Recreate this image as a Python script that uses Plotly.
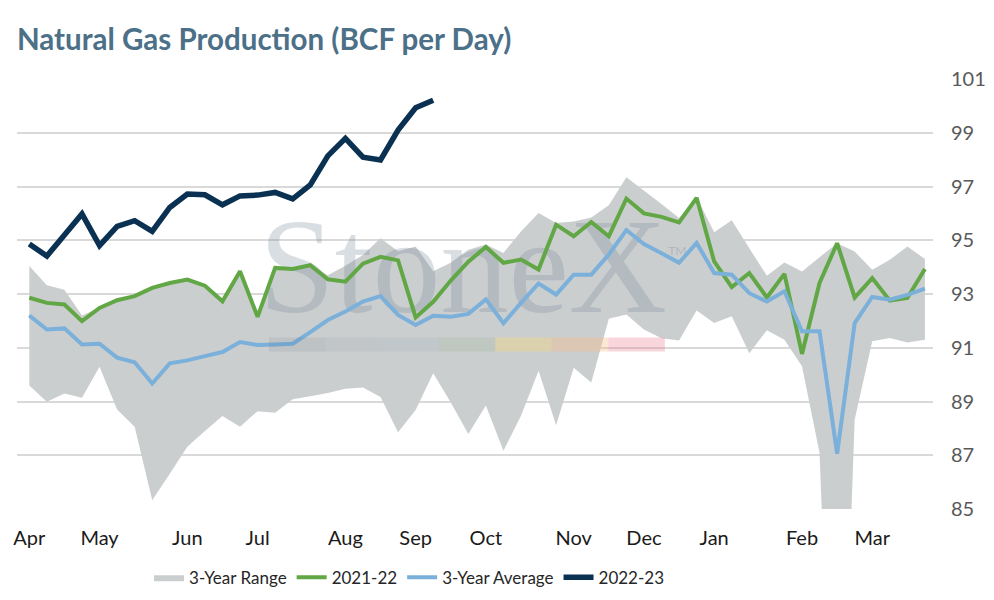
import plotly.graph_objects as go

# ---- data ----
week_index = list(range(52))
month_tick_weeks = [0, 4, 9, 13, 18, 22, 26, 31, 35, 39, 44, 48]
month_labels = ["Apr", "May", "Jun", "Jul", "Aug", "Sep", "Oct", "Nov", "Dec", "Jan", "Feb", "Mar"]
y_ticks = [85, 87, 89, 91, 93, 95, 97, 99, 101]

range_low = [89.6, 88.99, 89.3, 89.14, 90.29, 88.7, 88.06, 85.33, 86.31, 87.32,
             87.9, 88.46, 88.06, 88.64, 88.58, 89.08, 89.2, 89.32, 89.47, 89.52,
             89.17, 87.86, 88.68, 90.05, 88.96, 87.79, 88.85, 87.17, 88.47, 90.14,
             88.12, 90.26, 89.71, 92.08, 92.24, 91.68, 91.35, 91.27, 92.39, 91.92,
             92.17, 90.8, 91.65, 91.3, 90.31, 87.09, 70.0, 88.33, 91.24, 91.36,
             91.2, 91.3]
range_high = [94.04, 93.33, 93.16, 92.2, 92.5, 92.8, 92.95, 93.25, 93.43, 93.56,
              93.33, 92.75, 93.87, 92.17, 93.99, 93.95, 94.09, 93.7, 94.05, 94.45,
              95.07, 94.59, 94.77, 93.85, 94.16, 94.65, 94.84, 94.53, 95.33, 96.01,
              95.64, 95.7, 95.85, 96.3, 97.34, 96.85, 96.35, 95.83, 96.6, 95.3,
              95.74, 94.7, 93.68, 94.17, 93.84, 94.37, 94.89, 94.58, 93.9, 94.27,
              94.77, 94.3]
prod_2021_22 = [92.86, 92.67, 92.61, 91.99, 92.48, 92.77, 92.92, 93.23, 93.41, 93.54,
                93.31, 92.73, 93.85, 92.15, 93.97, 93.93, 94.07, 93.55, 93.46, 94.13,
                94.38, 94.25, 92.13, 92.71, 93.5, 94.2, 94.75, 94.16, 94.28, 93.91,
                95.58, 95.15, 95.68, 95.15, 96.55, 96.0, 95.87, 95.66, 96.58, 94.21,
                93.26, 93.78, 92.87, 93.75, 90.77, 93.41, 94.89, 92.87, 93.59, 92.75,
                92.85, 93.93]
avg_3yr = [92.2, 91.68, 91.72, 91.12, 91.15, 90.63, 90.46, 89.67, 90.42, 90.53,
           90.69, 90.84, 91.21, 91.1, 91.12, 91.15, 91.58, 92.03, 92.35, 92.72,
           92.92, 92.22, 91.85, 92.19, 92.15, 92.26, 92.8, 91.91, 92.67, 93.39,
           92.98, 93.72, 93.72, 94.47, 95.38, 94.86, 94.52, 94.16, 94.9, 93.78,
           93.72, 93.03, 92.72, 93.1, 91.61, 91.61, 87.06, 91.92, 92.89, 92.79,
           92.97, 93.2]
prod_2022_23 = [94.86, 94.41, 95.2, 95.98, 94.8, 95.52, 95.73, 95.33, 96.22, 96.72,
                96.69, 96.32, 96.65, 96.68, 96.78, 96.54, 97.06, 98.14, 98.79, 98.09,
                97.99, 99.1, 99.93, 100.21]

FONT = "Lato"
BAND = "#cbcecf"
GREEN = "#62a745"
BLUE = "#7bb0da"
NAVY = "#0b3152"

fig = go.Figure()

fig.add_trace(go.Scatter(x=week_index, y=range_low, mode="lines", line=dict(width=0),
                         showlegend=False, hoverinfo="skip"))
fig.add_trace(go.Scatter(x=week_index, y=range_high, mode="lines", line=dict(width=0),
                         fill="tonexty", fillcolor=BAND, name="3-Year Range"))

# watermark (drawn above band, below lines)
fig.add_trace(go.Scatter(x=[24.7], y=[93.6], mode="text", text=["StoneX"],
                         textfont=dict(family="Liberation Serif", size=136,
                                       color="rgba(120,135,155,0.28)"),
                         textposition="middle center", showlegend=False, hoverinfo="skip"))
fig.add_trace(go.Scatter(x=[36.9], y=[94.55], mode="text", text=["TM"],
                         textfont=dict(family="Lato", size=12, color="rgba(150,160,170,0.5)"),
                         textposition="middle center", showlegend=False, hoverinfo="skip"))

fig.add_trace(go.Scatter(x=week_index, y=prod_2021_22, mode="lines", name="2021-22",
                         line=dict(color=GREEN, width=4)))
fig.add_trace(go.Scatter(x=week_index, y=avg_3yr, mode="lines", name="3-Year Average",
                         line=dict(color=BLUE, width=4)))
fig.add_trace(go.Scatter(x=week_index[:len(prod_2022_23)], y=prod_2022_23, mode="lines",
                         name="2022-23", line=dict(color=NAVY, width=5.5)))

# watermark colour bar
bar_colors = ["rgba(70,85,110,0.10)", "rgba(90,110,130,0.08)", "rgba(120,160,180,0.12)",
              "rgba(110,150,100,0.12)", "rgba(250,215,110,0.35)", "rgba(250,185,130,0.35)",
              "rgba(235,120,135,0.30)"]
x0 = 13.65
seg = 3.22
for k, c in enumerate(bar_colors):
    fig.add_shape(type="rect", xref="x", yref="y", x0=x0 + k * seg, x1=x0 + (k + 1) * seg,
                  y0=90.86, y1=91.38, fillcolor=c, line=dict(width=0), layer="above")

# page body has an 8px margin: figure is sized to fit inside the 994x600 window
fig.update_layout(
    width=978, height=584,
    margin=dict(l=9, r=53, t=71, b=83, autoexpand=False),
    paper_bgcolor="white", plot_bgcolor="white",
    title=dict(text="<b>Natural Gas Production (BCF per Day)</b>",
               font=dict(family=FONT, size=29.5, color="#4b7088"),
               x=0.0092, xanchor="left", y=0.945, yanchor="middle"),
    showlegend=True,
    legend=dict(orientation="h", x=0.428, xanchor="center", y=-0.16, yanchor="middle",
                font=dict(family=FONT, size=17, color="#262626"),
                traceorder="normal", itemwidth=30, bgcolor="rgba(0,0,0,0)"),
    hovermode=False,
)
fig.update_xaxes(range=[-0.7, 51.46], tickmode="array", tickvals=month_tick_weeks,
                 ticktext=month_labels, showgrid=False, zeroline=False, showline=False,
                 ticks="", tickfont=dict(family=FONT, size=20, color="#1a1a1a"),
                 ticklabelstandoff=15, automargin=False)
fig.update_yaxes(range=[85, 101], side="right", tickmode="array", tickvals=y_ticks,
                 showgrid=True, gridcolor="#d9d9d9", gridwidth=1.6, zeroline=False,
                 showline=False, ticks="", tickfont=dict(family=FONT, size=20, color="#595959"),
                 ticklabelstandoff=17, automargin=False)

fig.write_html("out.html")
